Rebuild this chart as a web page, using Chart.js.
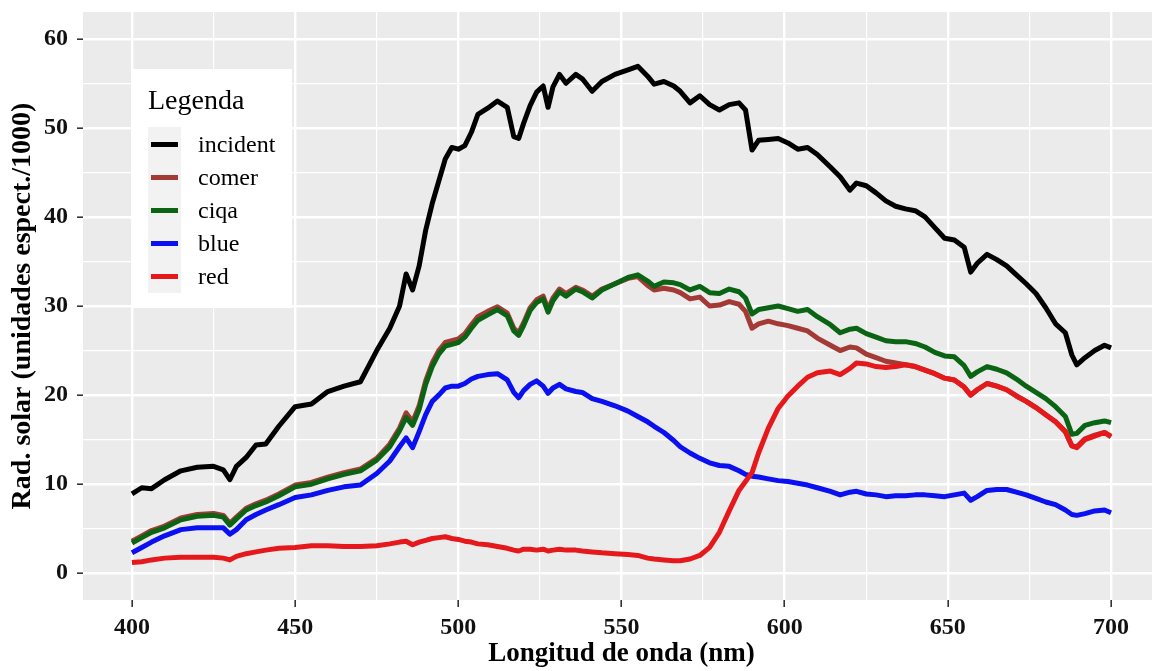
<!DOCTYPE html>
<html lang="es">
<head>
<meta charset="utf-8" />
<title>Rad. solar</title>
<script src="https://cdn.jsdelivr.net/npm/chart.js"></script>
<style>
  html, body { margin: 0; padding: 0; background: #fff; overflow: hidden; }
  #wrap { width: 1162px; height: 671px; }
</style>
</head>
<body>
<div id="wrap"><canvas id="chart" width="1162" height="671"></canvas></div>
<script>
// longitud de onda (nm)
const wavelength = [400, 403, 406, 410, 415, 420, 425, 428, 430, 432, 435, 438, 441, 445, 450, 455, 460, 465, 470, 475,
  479, 482, 484, 486, 488, 490, 492, 494, 496, 498, 500, 502, 504, 506, 509, 512, 515, 517, 518.5, 520,
  522, 524, 526, 527.5, 529, 531, 533, 536, 538, 541, 544, 548, 552, 555, 558, 560, 563, 566, 568, 571,
  574, 577, 580, 583, 586, 588, 590, 592, 595, 598, 601, 604, 607, 610, 614, 617, 620, 622, 625, 628,
  631, 634, 637, 640, 643, 646, 649, 652, 655, 657, 659, 662, 665, 668, 671, 674, 677, 680, 683, 686,
  688, 689.5, 692, 695, 698, 700];

const incident = [8.9, 9.6, 9.5, 10.5, 11.5, 11.9, 12.0, 11.6, 10.5, 12.0, 13.0, 14.4, 14.5, 16.5, 18.7, 19.0, 20.4, 21.0, 21.5, 25.0,
  27.5, 30.0, 33.6, 31.8, 34.5, 38.5, 41.5, 44.0, 46.5, 47.8, 47.6, 48.0, 49.5, 51.5, 52.2, 53.0, 52.3, 49.0, 48.8, 50.5,
  52.5, 54.0, 54.7, 52.3, 54.6, 56.0, 55.0, 56.0, 55.5, 54.1, 55.2, 56.0, 56.5, 56.9, 55.8, 54.9, 55.2, 54.7, 54.1, 52.8,
  53.6, 52.6, 52.0, 52.6, 52.8, 52.0, 47.5, 48.6, 48.7, 48.8, 48.3, 47.6, 47.8, 47.0, 45.6, 44.5, 43.0, 43.8, 43.5, 42.7,
  41.8, 41.2, 40.9, 40.7, 40.0, 38.8, 37.6, 37.4, 36.6, 33.8, 34.8, 35.8, 35.2, 34.5, 33.5, 32.5, 31.4, 29.8, 28.0, 27.0,
  24.5, 23.4, 24.2, 25.0, 25.6, 25.3];

const comer = [3.6, 4.2, 4.8, 5.3, 6.2, 6.6, 6.7, 6.5, 5.6, 6.3, 7.3, 7.8, 8.2, 8.9, 9.9, 10.2, 10.8, 11.3, 11.7, 12.9,
  14.5, 16.3, 18.0, 17.0, 18.8, 21.6, 23.6, 25.0, 25.9, 26.1, 26.3, 26.9, 27.9, 28.8, 29.4, 29.9, 29.2, 27.5, 27.0, 28.1,
  29.8, 30.7, 31.1, 29.6, 30.9, 31.9, 31.4, 32.1, 31.8, 31.1, 31.9, 32.5, 33.1, 33.3, 32.3, 31.8, 32.0, 31.8, 31.5, 30.8,
  31.0, 30.0, 30.1, 30.5, 30.2, 29.4, 27.5, 28.0, 28.3, 28.0, 27.8, 27.5, 27.2, 26.4, 25.6, 25.0, 25.4, 25.3, 24.6, 24.2,
  23.8, 23.6, 23.4, 23.2, 22.8, 22.4, 21.9, 21.7, 20.9, 20.0, 20.6, 21.3, 21.0, 20.6, 19.9, 19.3, 18.6, 17.8, 17.0, 15.9,
  14.3, 14.2, 15.1, 15.5, 15.8, 15.3];

const ciqa = [3.4, 4.0, 4.6, 5.1, 6.0, 6.4, 6.5, 6.3, 5.4, 6.1, 7.1, 7.6, 8.0, 8.7, 9.7, 10.0, 10.6, 11.1, 11.5, 12.7,
  14.2, 16.0, 17.5, 16.6, 18.4, 21.2, 23.2, 24.6, 25.5, 25.7, 25.9, 26.5, 27.5, 28.4, 29.0, 29.6, 28.9, 27.2, 26.7, 27.8,
  29.5, 30.4, 30.8, 29.3, 30.6, 31.6, 31.1, 31.9, 31.6, 30.9, 31.8, 32.5, 33.2, 33.5, 32.8, 32.2, 32.7, 32.6, 32.4, 31.8,
  32.2, 31.5, 31.4, 31.9, 31.6, 30.9, 29.1, 29.6, 29.8, 30.0, 29.7, 29.4, 29.6, 28.8, 27.9, 27.0, 27.4, 27.5, 26.9, 26.5,
  26.1, 26.0, 26.0, 25.8, 25.4, 24.8, 24.4, 24.3, 23.3, 22.1, 22.6, 23.2, 22.9, 22.5, 21.8, 21.0, 20.3, 19.6, 18.7, 17.6,
  15.6, 15.7, 16.6, 16.9, 17.1, 16.9];

const blue = [2.3, 2.9, 3.5, 4.2, 4.9, 5.1, 5.1, 5.1, 4.4, 4.9, 6.0, 6.6, 7.1, 7.7, 8.5, 8.8, 9.3, 9.7, 9.9, 11.2,
  12.6, 14.2, 15.2, 14.1, 15.9, 17.8, 19.3, 20.0, 20.8, 21.0, 21.0, 21.3, 21.8, 22.1, 22.3, 22.4, 21.7, 20.3, 19.7, 20.5,
  21.2, 21.6, 21.0, 20.2, 20.8, 21.2, 20.7, 20.4, 20.3, 19.6, 19.3, 18.8, 18.2, 17.6, 17.0, 16.5, 15.8, 14.9, 14.2, 13.5,
  12.9, 12.4, 12.1, 12.0, 11.5, 11.1, 10.9, 10.8, 10.6, 10.4, 10.3, 10.1, 9.9, 9.6, 9.2, 8.8, 9.1, 9.2, 8.9, 8.8,
  8.6, 8.7, 8.7, 8.8, 8.8, 8.7, 8.6, 8.8, 9.0, 8.2, 8.6, 9.3, 9.4, 9.4, 9.1, 8.8, 8.4, 8.0, 7.7, 7.1,
  6.6, 6.5, 6.7, 7.0, 7.1, 6.8];

const red = [1.2, 1.3, 1.5, 1.7, 1.8, 1.8, 1.8, 1.7, 1.5, 1.9, 2.2, 2.4, 2.6, 2.8, 2.9, 3.1, 3.1, 3.0, 3.0, 3.1,
  3.3, 3.5, 3.6, 3.2, 3.5, 3.7, 3.9, 4.0, 4.1, 3.9, 3.8, 3.6, 3.5, 3.3, 3.2, 3.0, 2.8, 2.6, 2.5, 2.7,
  2.7, 2.6, 2.7, 2.5, 2.6, 2.7, 2.6, 2.6, 2.5, 2.4, 2.3, 2.2, 2.1, 2.0, 1.7, 1.6, 1.5, 1.4, 1.4, 1.6,
  2.0, 2.9, 4.6, 7.0, 9.3, 10.3, 11.3, 13.5, 16.3, 18.5, 19.9, 21.0, 22.0, 22.5, 22.7, 22.3, 23.0, 23.6, 23.5, 23.2,
  23.1, 23.2, 23.4, 23.2, 22.8, 22.4, 21.9, 21.7, 20.9, 20.0, 20.6, 21.3, 21.0, 20.6, 19.9, 19.3, 18.6, 17.8, 17.0, 15.9,
  14.3, 14.1, 15.0, 15.4, 15.8, 15.4];

const seriesNames = ['incident', 'comer', 'ciqa', 'blue', 'red'];
const seriesValues = [incident, comer, ciqa, blue, red];
const seriesColors = ['#000000', '#A33A36', '#0B6414', '#0A10F0', '#E5191C'];

const xTicks = [400, 425, 450, 475, 500, 525, 550, 575, 600, 625, 650, 675, 700];
const yTicks = [0, 5, 10, 15, 20, 25, 30, 35, 40, 45, 50, 55, 60];

const serif = '"Liberation Serif", "Times New Roman", serif';

// fondo gris del panel
const panelBg = {
  id: 'panelBg',
  beforeDraw(chart) {
    const a = chart.chartArea, c = chart.ctx;
    c.save();
    c.fillStyle = '#EBEBEB';
    c.fillRect(a.left, a.top, a.right - a.left, a.bottom - a.top);
    c.restore();
  }
};

// leyenda dentro del panel
const legendBox = {
  id: 'legendBox',
  afterDraw(chart) {
    const c = chart.ctx;
    c.save();
    c.fillStyle = '#ffffff';
    c.fillRect(132, 69, 160, 239);
    c.fillStyle = '#000';
    c.font = '28px ' + serif;
    c.textBaseline = 'alphabetic';
    c.fillText('Legenda', 148, 109);
    c.fillStyle = '#F2F2F2';
    c.fillRect(148, 127, 33, 166);
    seriesNames.forEach((name, i) => {
      const y = 144.5 + i * 33;
      c.strokeStyle = seriesColors[i];
      c.lineWidth = 5;
      c.beginPath();
      c.moveTo(151, y);
      c.lineTo(178, y);
      c.stroke();
      c.fillStyle = '#000';
      c.font = '24px ' + serif;
      c.textBaseline = 'middle';
      c.fillText(name, 198, y + 1);
    });
    c.restore();
  }
};

const datasets = seriesNames.map((name, i) => ({
  label: name,
  data: wavelength.map((w, k) => ({ x: w, y: seriesValues[i][k] })),
  borderColor: seriesColors[i],
  borderWidth: 5,
  pointRadius: 0,
  tension: 0,
  fill: false,
  borderJoinStyle: 'round',
  order: seriesNames.length - i
}));

new Chart(document.getElementById('chart'), {
  type: 'line',
  data: { datasets: datasets },
  options: {
    responsive: false,
    animation: false,
    layout: { padding: { top: 12, right: 2, bottom: 0, left: 0 } },
    plugins: { legend: { display: false }, tooltip: { enabled: false } },
    scales: {
      x: {
        type: 'linear',
        min: 385,
        max: 715,
        afterBuildTicks: (s) => { s.ticks = xTicks.map(v => ({ value: v })); },
        afterFit: (s) => { s.height = 71; },
        border: { display: false },
        grid: {
          color: '#ffffff',
          lineWidth: (ctx) => (ctx.tick && ctx.tick.value % 50 === 0 ? 2.4 : 1.2),
          tickColor: (ctx) => (ctx.tick && ctx.tick.value % 50 === 0 ? '#333333' : 'rgba(0,0,0,0)'),
          tickWidth: 1.6,
          tickLength: 7
        },
        ticks: {
          autoSkip: false,
          maxRotation: 0,
          padding: 6,
          color: '#111',
          font: { family: serif, size: 24, weight: 'bold' },
          callback: (v) => (v % 50 === 0 ? String(v) : '')
        },
        title: {
          display: true,
          text: 'Longitud de onda (nm)',
          color: '#000',
          font: { family: serif, size: 27, weight: 'bold' },
          padding: { top: 0, bottom: 1 }
        }
      },
      y: {
        min: -3,
        max: 63,
        afterBuildTicks: (s) => { s.ticks = yTicks.map(v => ({ value: v })); },
        afterFit: (s) => { s.width = 83; s.paddingTop = 0; s.paddingBottom = 0; },
        border: { display: false },
        grid: {
          color: '#ffffff',
          lineWidth: (ctx) => (ctx.tick && ctx.tick.value % 10 === 0 ? 2.4 : 1.2),
          tickColor: (ctx) => (ctx.tick && ctx.tick.value % 10 === 0 ? '#333333' : 'rgba(0,0,0,0)'),
          tickWidth: 1.6,
          tickLength: 6
        },
        ticks: {
          autoSkip: false,
          padding: 9,
          color: '#111',
          font: { family: serif, size: 24, weight: 'bold' },
          callback: (v) => (v % 10 === 0 ? String(v) : '')
        },
        title: {
          display: true,
          text: 'Rad. solar (unidades espect./1000)',
          color: '#000',
          font: { family: serif, size: 28, weight: 'bold' },
          padding: { top: 6, bottom: 0 }
        }
      }
    }
  },
  plugins: [panelBg, legendBox]
});
</script>
</body>
</html>
